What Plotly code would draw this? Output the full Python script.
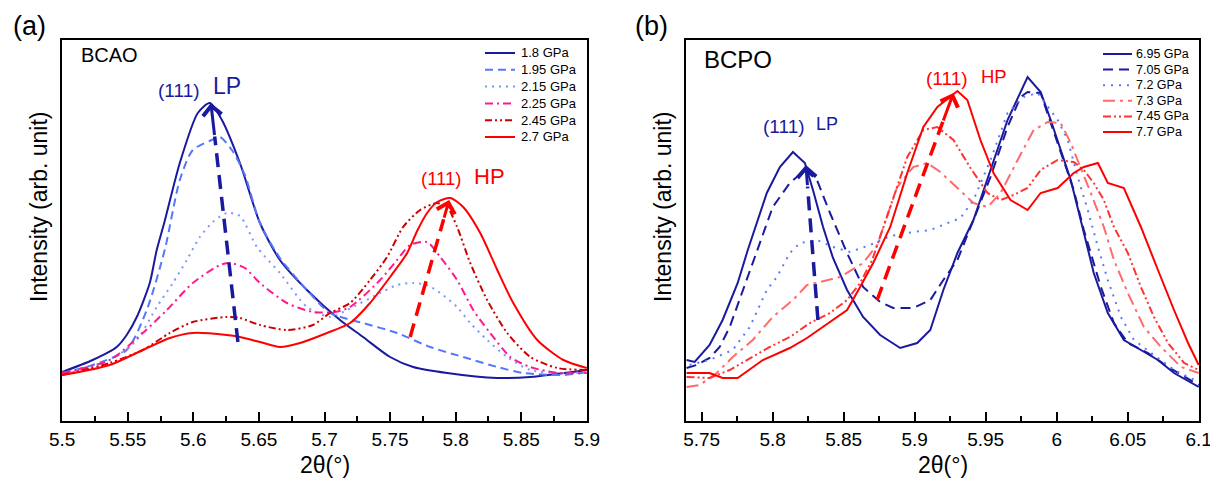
import plotly.graph_objects as go

W, H = 1210, 481
FONT = 'Liberation Sans, Arial, sans-serif'
NAVY = '#1a1a9e'

# ---------------- panel (a): BCAO, 2theta (deg) vs intensity (arb. unit) ----------------
A_LABELS = ['1.8 GPa', '1.95 GPa', '2.15 GPa', '2.25 GPa', '2.45 GPa', '2.7 GPa']

A_X_180 = [5.5, 5.5233, 5.5416, 5.5492, 5.5569, 5.5668, 5.5721, 5.5782, 5.5897, 5.6034, 5.6126, 5.6218,
           5.6355, 5.6508, 5.666, 5.6866, 5.7118, 5.7294, 5.75, 5.7676, 5.7935, 5.8317, 5.8569, 5.9]
A_I_180 = [49, 61, 74, 86, 104, 138, 171, 200, 258, 308, 318, 301, 258, 198, 161, 131, 101, 84, 64, 54, 48,
           43, 44, 51]

A_X_195 = [5.5, 5.5233, 5.5492, 5.5645, 5.5782, 5.5897, 5.5996, 5.6141, 5.6202, 5.6294, 5.6393, 5.6508,
           5.666, 5.6866, 5.7042, 5.7294, 5.7553, 5.7805, 5.8057, 5.8317, 5.8515, 5.8821, 5.9]
A_I_195 = [48, 56, 71, 111, 171, 241, 271, 281, 284, 271, 246, 198, 163, 131, 108, 98, 88, 74, 64, 54, 48, 46, 49]

A_X_215 = [5.5, 5.5363, 5.5569, 5.5721, 5.5844, 5.595, 5.605, 5.6149, 5.6256, 5.6355, 5.6485, 5.666, 5.6866,
           5.7042, 5.7172, 5.7424, 5.7553, 5.7676, 5.7782, 5.7882, 5.8011, 5.8111, 5.824, 5.8393, 5.8569,
           5.8821, 5.9]
A_I_215 = [48, 61, 81, 114, 138, 161, 184, 199, 208, 205, 174, 148, 114, 104, 111, 128, 136, 138, 136, 128,
           114, 98, 81, 64, 51, 48, 49]

A_X_225 = [5.5, 5.5363, 5.5615, 5.5798, 5.5996, 5.6202, 5.6279, 5.6393, 5.6508, 5.6714, 5.6912, 5.708,
           5.7195, 5.7424, 5.7553, 5.7653, 5.7782, 5.7882, 5.8011, 5.8134, 5.8263, 5.8416, 5.8569, 5.8775, 5.9]
A_I_225 = [48, 61, 88, 111, 138, 156, 158, 153, 138, 118, 109, 109, 114, 141, 161, 176, 179, 164, 141, 111,
           88, 64, 54, 48, 48]

A_X_245 = [5.5, 5.5363, 5.5615, 5.5821, 5.5996, 5.6256, 5.6355, 5.6508, 5.6714, 5.6912, 5.7042, 5.7195,
           5.7347, 5.7477, 5.7599, 5.7729, 5.7859, 5.7935, 5.8011, 5.8111, 5.824, 5.8393, 5.8569, 5.8775, 5.9]
A_I_245 = [46, 58, 71, 88, 99, 104, 103, 96, 91, 96, 108, 118, 141, 164, 194, 211, 218, 214, 194, 158, 121,
           88, 64, 53, 51]

A_X_270 = [5.5, 5.5363, 5.5615, 5.5821, 5.5996, 5.6256, 5.6355, 5.6508, 5.666, 5.6813, 5.7019, 5.7195,
           5.7347, 5.75, 5.763, 5.7706, 5.7782, 5.7859, 5.7958, 5.8057, 5.8187, 5.8317, 5.8439, 5.8622,
           5.8821, 5.9]
A_I_270 = [46, 56, 71, 83, 88, 86, 84, 79, 74, 78, 88, 98, 118, 144, 168, 190, 208, 219, 223, 214, 188, 151,
           118, 81, 61, 53]

# peak-shift arrows: [tail, tip]
A_LP_ARROW_X, A_LP_ARROW_I = [5.634, 5.6134], [79, 318]
A_HP_ARROW_X, A_HP_ARROW_I = [5.7653, 5.795], [84, 221]

# ---------------- panel (b): BCPO ----------------
B_LABELS = ['6.95 GPa', '7.05 GPa', '7.2 GPa', '7.3 GPa', '7.45 GPa', '7.7 GPa']

B_X_695 = [5.7394, 5.7451, 5.7556, 5.7648, 5.7754, 5.7825, 5.7959, 5.8051, 5.8143, 5.8227, 5.8284, 5.8355,
           5.8425, 5.8524, 5.8637, 5.8757, 5.8898, 5.9018, 5.911, 5.9202, 5.9301, 5.9414, 5.9534, 5.9654,
           5.9795, 5.9887, 5.9958, 6.0028, 6.0099, 6.0169, 6.0261, 6.036, 6.0473, 6.0593, 6.0713, 6.0826, 6.1]
B_I_695 = [61, 59, 76, 101, 138, 171, 228, 254, 269, 258, 231, 194, 163, 131, 104, 86, 73, 78, 91, 131, 168,
           201, 251, 301, 344, 329, 301, 271, 241, 201, 148, 108, 81, 71, 61, 48, 34]

B_X_705 = [5.7394, 5.7465, 5.7556, 5.7627, 5.7698, 5.779, 5.7888, 5.8001, 5.8121, 5.8227, 5.8312, 5.8404,
           5.8524, 5.8637, 5.8757, 5.8849, 5.899, 5.911, 5.9202, 5.9301, 5.9414, 5.9534, 5.9654, 5.9746,
           5.9795, 5.9887, 5.9958, 6.0049, 6.012, 6.0191, 6.0311, 6.0403, 6.0501, 6.0643, 6.0784, 6.1]
B_I_705 = [53, 56, 63, 74, 94, 131, 169, 214, 238, 251, 241, 208, 168, 134, 119, 113, 113, 121, 141, 161, 201,
           244, 294, 324, 329, 328, 298, 261, 231, 191, 134, 98, 78, 68, 54, 36]

B_X_720 = [5.7415, 5.7556, 5.7719, 5.7839, 5.7959, 5.803, 5.8121, 5.8192, 5.8312, 5.8425, 5.8545, 5.8686,
           5.8828, 5.899, 5.911, 5.9202, 5.9322, 5.9414, 5.9534, 5.9654, 5.9767, 5.9866, 5.9936, 6.0007,
           6.0078, 6.0148, 6.0219, 6.029, 6.036, 6.0452, 6.0544, 6.0664, 6.0826, 6.1]
B_I_720 = [56, 61, 71, 94, 131, 144, 168, 178, 181, 174, 169, 176, 185, 189, 191, 196, 203, 221, 261, 308, 324,
           328, 314, 301, 281, 244, 211, 174, 141, 104, 81, 68, 51, 39]

B_X_730 = [5.7394, 5.7486, 5.7606, 5.7719, 5.786, 5.8001, 5.8143, 5.8242, 5.8333, 5.8475, 5.8637, 5.8736,
           5.8877, 5.899, 5.9089, 5.9181, 5.9301, 5.9414, 5.9513, 5.9605, 5.9725, 5.9838, 5.9936, 6.0028,
           6.0099, 6.0169, 6.024, 6.0332, 6.0403, 6.0501, 6.0614, 6.0734, 6.0876, 6.1]
B_I_730 = [34, 36, 48, 64, 81, 104, 121, 136, 139, 144, 158, 176, 234, 254, 258, 249, 233, 218, 214, 228, 261,
           291, 299, 298, 278, 254, 228, 194, 161, 128, 94, 74, 54, 48]

B_X_745 = [5.7394, 5.7556, 5.7698, 5.7818, 5.798, 5.8121, 5.8263, 5.8404, 5.8524, 5.8616, 5.8701, 5.8828,
           5.8948, 5.9061, 5.916, 5.9273, 5.9393, 5.9513, 5.9605, 5.9696, 5.9795, 5.9887, 6.0007, 6.012,
           6.0191, 6.0261, 6.0332, 6.0403, 6.0501, 6.0593, 6.0685, 6.0784, 6.0897, 6.1]
B_I_745 = [44, 43, 51, 61, 74, 84, 98, 108, 121, 138, 161, 214, 264, 291, 294, 281, 253, 228, 221, 226, 233,
           251, 261, 259, 251, 238, 221, 194, 168, 134, 104, 78, 58, 51]

B_X_770 = [5.7394, 5.7556, 5.7648, 5.7754, 5.7931, 5.8121, 5.8242, 5.8425, 5.8524, 5.8616, 5.8708, 5.8828,
           5.8948, 5.9061, 5.916, 5.9301, 5.9371, 5.9463, 5.9555, 5.9675, 5.9795, 5.9887, 6.0007, 6.012,
           6.0191, 6.029, 6.036, 6.0473, 6.0593, 6.0713, 6.0826, 6.0925, 6.1]
B_I_770 = [48, 48, 43, 43, 61, 73, 83, 101, 111, 134, 158, 194, 248, 294, 314, 330, 321, 281, 248, 221, 211,
           228, 233, 248, 254, 258, 238, 233, 194, 151, 111, 78, 56]

B_LP_ARROW_X, B_LP_ARROW_I = [5.8319, 5.8234], [101, 256]
B_HP_ARROW_X, B_HP_ARROW_I = [5.8736, 5.9273], [121, 328]

# line styles (colour, dash) per pressure
A_STYLES = [(NAVY, 'solid'), ('#5577ff', '8px,5px'), ('#7b96ff', '2px,5px'),
            ('#ff1a8c', '8px,4px,2px,4px'), ('#cc0000', '7px,3px,2px,3px,2px,3px'), ('#ff0000', 'solid')]
B_STYLES = [(NAVY, 'solid'), (NAVY, '10px,6px'), ('#5a78ff', '2px,6px'),
            ('#ff6b6b', '12px,5px,3px,5px'), ('#ff3333', '8px,3px,2px,3px,2px,3px'), ('#ff0000', 'solid')]

A_SERIES = [(A_X_180, A_I_180), (A_X_195, A_I_195), (A_X_215, A_I_215),
            (A_X_225, A_I_225), (A_X_245, A_I_245), (A_X_270, A_I_270)]
B_SERIES = [(B_X_695, B_I_695), (B_X_705, B_I_705), (B_X_720, B_I_720),
            (B_X_730, B_I_730), (B_X_745, B_I_745), (B_X_770, B_I_770)]


def px(x):
    return x / W


def py(y):
    return 1 - y / H


fig = go.Figure()

for (xs, ys), name, (color, dash) in zip(A_SERIES, A_LABELS, A_STYLES):
    fig.add_trace(go.Scatter(x=xs, y=ys, name=name, mode='lines', xaxis='x', yaxis='y',
                             line=dict(color=color, width=2, dash=dash, shape='spline', smoothing=0.7)))

for (xs, ys), name, (color, dash) in zip(B_SERIES, B_LABELS, B_STYLES):
    fig.add_trace(go.Scatter(x=xs, y=ys, name=name, mode='lines', xaxis='x2', yaxis='y2',
                             line=dict(color=color, width=2, dash=dash)))


def add_arrow(xs, ys, color, xref, yref):
    # dashed shaft stopping short of the tip, head drawn by an annotation arrow
    x0, x1 = xs
    y0, y1 = ys
    xm = x0 + 0.86 * (x1 - x0)
    ym = y0 + 0.86 * (y1 - y0)
    fig.add_trace(go.Scatter(x=[x0, xm], y=[y0, ym], mode='lines', xaxis=xref, yaxis=yref,
                             line=dict(color=color, width=3.5, dash='14px,8px'),
                             showlegend=False, hoverinfo='skip'))
    fig.add_annotation(x=x1, y=y1, ax=xm, ay=ym, xref=xref, yref=yref, axref=xref, ayref=yref,
                       text='', showarrow=True, arrowhead=4, arrowsize=1.2, arrowwidth=3,
                       arrowcolor=color)


add_arrow(A_LP_ARROW_X, A_LP_ARROW_I, NAVY, 'x', 'y')
add_arrow(A_HP_ARROW_X, A_HP_ARROW_I, '#ff0000', 'x', 'y')
add_arrow(B_LP_ARROW_X, B_LP_ARROW_I, NAVY, 'x2', 'y2')
add_arrow(B_HP_ARROW_X, B_HP_ARROW_I, '#ff0000', 'x2', 'y2')


def add_legend(labels, styles, line_x, text_x, top, step, size):
    for i, (label, (color, dash)) in enumerate(zip(labels, styles)):
        y = py(top + i * step)
        fig.add_shape(type='line', xref='paper', yref='paper', x0=px(line_x[0]), x1=px(line_x[1]),
                      y0=y, y1=y, line=dict(color=color, width=2, dash=dash))
        fig.add_annotation(xref='paper', yref='paper', x=px(text_x), y=y, text=label, showarrow=False,
                           xanchor='left', yanchor='middle', font=dict(size=size, color='black'))


add_legend(A_LABELS, A_STYLES, (485, 515), 519, 53, 16.8, 13)
add_legend(B_LABELS, B_STYLES, (1103, 1132), 1134, 54, 15.6, 12.5)


def add_text(x, y, text, size, color='black', anchor='left', angle=0):
    fig.add_annotation(xref='paper', yref='paper', x=px(x), y=py(y), text=text, showarrow=False,
                       xanchor=anchor, yanchor='middle', textangle=angle,
                       font=dict(size=size, color=color))


add_text(11, 26, '(a)', 27)
add_text(633, 26, '(b)', 27)
add_text(79, 55, 'BCAO', 20)
add_text(702, 59, 'BCPO', 24)
add_text(156, 90, '(111)', 19, NAVY)
add_text(211, 86, 'LP', 23, NAVY)
add_text(419, 178, '(111)', 18.5, '#ff0000')
add_text(472, 176, 'HP', 22, '#ff0000')
add_text(761, 126, '(111)', 19, NAVY)
add_text(814, 124, 'LP', 18, NAVY)
add_text(924, 78, '(111)', 19, '#ff0000')
add_text(979, 77, 'HP', 18.5, '#ff0000')

# axis titles
for xc in (39, 663):
    add_text(xc, 207, 'Intensity (arb. unit)', 23, anchor='center', angle=-90)
for xc in (324.5, 942.5):
    add_text(xc, 465, '2θ(°)', 23, anchor='center')

x_common = dict(ticks='inside', ticklen=9, tickwidth=1.5, tickcolor='black', dtick=0.05,
                showline=True, linewidth=2, linecolor='black', mirror=True, showgrid=False,
                zeroline=False, tickfont=dict(size=19, color='black'), automargin=False,
                ticklabeloverflow='allow',
                minor=dict(ticks='inside', ticklen=5, tickwidth=1.5, tickcolor='black', dtick=0.025,
                           showgrid=False))
y_common = dict(showticklabels=False, ticks='', showline=True, linewidth=2, linecolor='black',
                mirror=True, showgrid=False, zeroline=False, range=[0, 381], automargin=False,
                domain=[py(421), py(40)])

fig.update_layout(
    width=W, height=H,
    margin=dict(l=0, r=0, t=0, b=0),
    paper_bgcolor='white', plot_bgcolor='white',
    font=dict(family=FONT, color='black'),
    showlegend=False,
    xaxis=dict(x_common, domain=[px(62), px(587)], range=[5.4999, 5.9001], tick0=5.5, anchor='y'),
    yaxis=dict(y_common, anchor='x'),
    xaxis2=dict(x_common, domain=[px(686), px(1199)], range=[5.739, 6.1002], tick0=5.75, anchor='y2'),
    yaxis2=dict(y_common, anchor='x2'),
)

# the page body has a default 8px margin; drop it so the fixed-size figure sits at the window origin
fig.write_html('out.html', config={'displayModeBar': False},
               post_script="document.body.style.margin='0';")
